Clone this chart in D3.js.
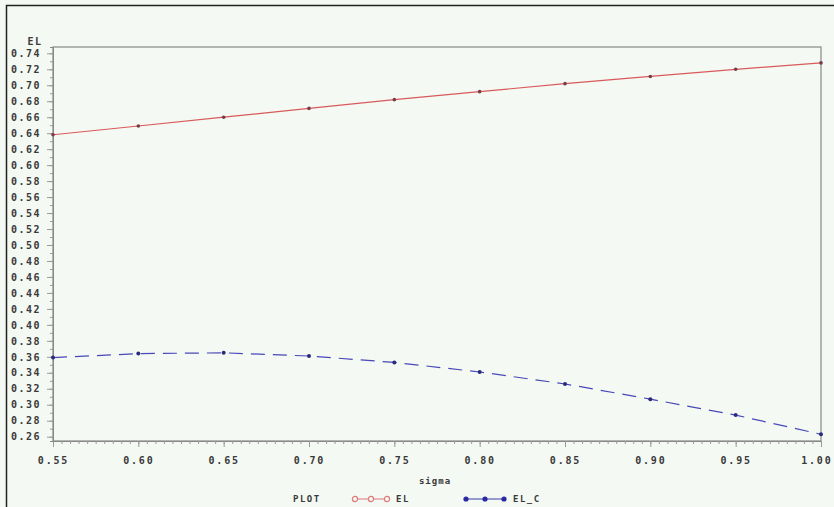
<!DOCTYPE html>
<html>
<head>
<meta charset="utf-8">
<script src="https://cdn.jsdelivr.net/npm/d3@7"></script>
<style>
  body { margin: 0; background: #f4f9f3; }
  text { font-family: "DejaVu Sans Mono", monospace; font-weight: bold; fill: #3a3a3a; }
</style>
</head>
<body>
<div id="chart"></div>
<script>
var sigma = [0.55, 0.60, 0.65, 0.70, 0.75, 0.80, 0.85, 0.90, 0.95, 1.00]
var el = [0.638, 0.649, 0.660, 0.671, 0.682, 0.692, 0.702, 0.711, 0.720, 0.728]
var elC = [0.359, 0.364, 0.365, 0.361, 0.353, 0.341, 0.326, 0.307, 0.287, 0.263]
var xTicks = [0.55, 0.60, 0.65, 0.70, 0.75, 0.80, 0.85, 0.90, 0.95, 1.00]
var yTicks = d3.range(13, 38).map(function (i) { return i * 0.02; })

var W = 834, H = 507
var margin = {top: 47, right: 13, bottom: 66, left: 53},
    width = W - margin.left - margin.right,
    height = H - margin.top - margin.bottom;

var svg = d3.select("#chart")
  .append("svg")
    .attr("width", W)
    .attr("height", H)

svg.append("rect").attr("width", W).attr("height", H).attr("fill", "#f4f9f3")

// outer frame (top and left only show)
svg.append("path")
  .attr("d", "M6.5," + H + "V5.5H" + W)
  .attr("fill", "none").attr("stroke", "#222").attr("stroke-width", 1.5)

var g = svg.append("g")
    .attr("transform", "translate(" + margin.left + "," + margin.top + ")");

var x = d3.scaleLinear().domain([0.55, 1.00]).range([0, width])
var y = d3.scaleLinear().domain([0.2546, 0.7479]).range([height, 0])

// plot frame
g.append("rect")
  .attr("width", width).attr("height", height)
  .attr("fill", "none").attr("stroke", "#888").attr("stroke-width", 1.2)

// x axis
var xAxis = g.append("g").attr("transform", "translate(0," + height + ")")
xAxis.call(d3.axisBottom(x).tickValues(d3.range(110, 201).map(function (i) { return i / 200; }))
    .tickSize(3).tickFormat(""))
xAxis.select(".domain").attr("stroke", "#888")
xAxis.selectAll("line").attr("stroke", "#999")
var xMajor = g.append("g").attr("transform", "translate(0," + height + ")")
xMajor.call(d3.axisBottom(x).tickValues(xTicks).tickSize(6).tickPadding(10)
    .tickFormat(d3.format(".2f")))
xMajor.select(".domain").remove()
xMajor.selectAll("line").attr("stroke", "#999")
xMajor.selectAll("text").style("font-size", "10px").style("letter-spacing", "1.8px")
xMajor.selectAll("text").filter(function (d) { return d === 1.00; })
  .attr("text-anchor", "end").attr("dx", "11px")

// y axis
var yAxis = g.append("g")
yAxis.call(d3.axisLeft(y).tickValues(d3.range(26, 75).map(function (i) { return i / 100; }))
    .tickSize(3).tickFormat(""))
yAxis.select(".domain").attr("stroke", "#888")
yAxis.selectAll("line").attr("stroke", "#999")
var yMajor = g.append("g")
yMajor.call(d3.axisLeft(y).tickValues(yTicks).tickSize(6).tickPadding(6)
    .tickFormat(d3.format(".2f")))
yMajor.select(".domain").remove()
yMajor.selectAll("line").attr("stroke", "#999")
yMajor.selectAll("text").style("font-size", "10px").style("letter-spacing", "1.5px")

// axis labels
svg.append("text").attr("x", 35).attr("y", 45).attr("text-anchor", "middle")
  .style("font-size", "10px").style("letter-spacing", "1.5px").text("EL")
svg.append("text").attr("x", 435).attr("y", 484).attr("text-anchor", "middle")
  .style("font-size", "9px").style("letter-spacing", "1px").text("sigma")

// lines
var line = d3.line().x(function (d) { return x(d[0]); }).y(function (d) { return y(d[1]); })
var elData = d3.zip(sigma, el)
var elCData = d3.zip(sigma, elC)

g.append("path").datum(elData).attr("d", line)
  .attr("fill", "none").attr("stroke", "#d85a5a").attr("stroke-width", 1.2)
g.append("path").datum(elCData).attr("d", line)
  .attr("fill", "none").attr("stroke", "#4848b8").attr("stroke-width", 1.2)
  .attr("stroke-dasharray", "14,8")

g.selectAll(".elpt").data(elData).enter().append("circle")
  .attr("cx", function (d) { return x(d[0]); })
  .attr("cy", function (d) { return y(d[1]); })
  .attr("r", 1.8).attr("fill", "#7a3a4a")
g.selectAll(".elcpt").data(elCData).enter().append("circle")
  .attr("cx", function (d) { return x(d[0]); })
  .attr("cy", function (d) { return y(d[1]); })
  .attr("r", 2).attr("fill", "#2a2a80")

// legend
var lg = svg.append("g").attr("transform", "translate(0,499)")
lg.append("text").attr("x", 293).attr("y", 3).style("font-size", "9px").style("letter-spacing", "1.5px").text("PLOT")
lg.append("line").attr("x1", 353).attr("x2", 389).attr("y1", 0).attr("y2", 0)
  .attr("stroke", "#e07a7a").attr("stroke-width", 1.2)
lg.selectAll(".lr").data([355, 371, 387]).enter().append("circle")
  .attr("cx", function (d) { return d; }).attr("cy", 0).attr("r", 2.6)
  .attr("fill", "#f4f9f3").attr("stroke", "#e07a7a").attr("stroke-width", 1.2)
lg.append("text").attr("x", 396).attr("y", 3).style("font-size", "9px").style("letter-spacing", "1.5px").text("EL")
lg.append("line").attr("x1", 465).attr("x2", 505).attr("y1", 0).attr("y2", 0)
  .attr("stroke", "#3a3ab0").attr("stroke-width", 1.2)
lg.selectAll(".lb").data([466, 485, 504]).enter().append("circle")
  .attr("cx", function (d) { return d; }).attr("cy", 0).attr("r", 2.6)
  .attr("fill", "#2a2aa0")
lg.append("text").attr("x", 513).attr("y", 3).style("font-size", "9px").style("letter-spacing", "1.5px").text("EL_C")
</script>
</body>
</html>
